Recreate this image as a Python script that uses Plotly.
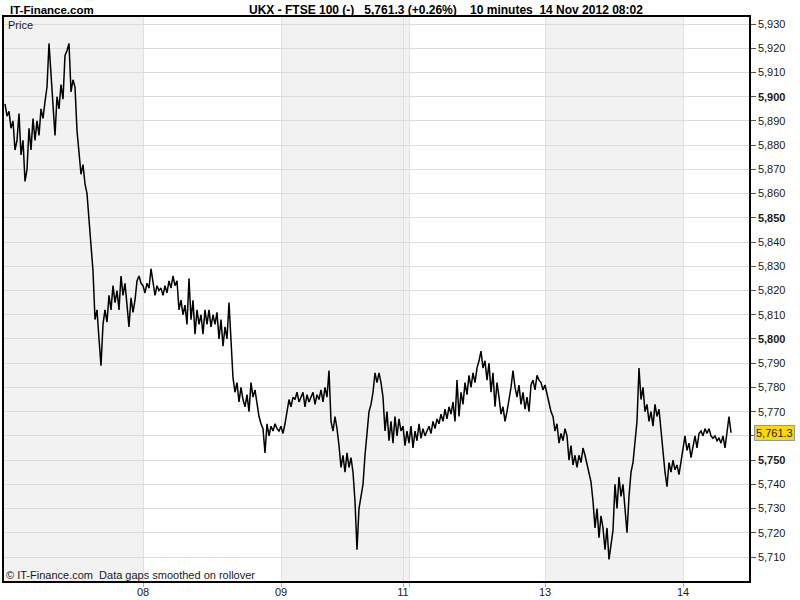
import plotly.graph_objects as go

# ---------------- data (10-minute bars) ----------------
day_labels = ["07", "08", "09", "11", "12", "13", "14"]
tick_day_labels = ["", "08", "09", "11", "", "13", "14"]

prices_07 = [5897, 5892, 5894, 5887, 5890, 5878, 5882, 5893, 5876, 5882,
             5865, 5870, 5887, 5878, 5891, 5882, 5890, 5884, 5895, 5891,
             5898, 5904, 5922, 5910, 5896, 5884, 5900, 5895, 5905, 5899,
             5917, 5919, 5922, 5902, 5907, 5904, 5886, 5875, 5868, 5872,
             5864, 5860, 5848, 5836, 5828, 5808, 5812, 5800, 5789, 5806,
             5812, 5807, 5818, 5812, 5822, 5815, 5820, 5812, 5826, 5818,
             5823, 5814, 5805, 5817, 5811, 5816, 5824, 5826, 5823]
prices_08 = [5822, 5819, 5823, 5821, 5829, 5824, 5818, 5822, 5820, 5821,
             5818, 5822, 5819, 5824, 5821, 5826, 5822, 5824, 5812, 5816,
             5810, 5814, 5806, 5825, 5808, 5816, 5802, 5812, 5806, 5810,
             5802, 5812, 5806, 5812, 5805, 5810, 5806, 5811, 5800, 5808,
             5797, 5805, 5800, 5815, 5796, 5784, 5778, 5782, 5774, 5780,
             5775, 5772, 5777, 5770, 5782, 5776, 5779, 5773, 5768, 5765,
             5763, 5753, 5765, 5760, 5764, 5762, 5765, 5763, 5762]
prices_09 = [5764, 5761, 5765, 5770, 5775, 5772, 5776, 5775, 5778, 5774,
             5776, 5778, 5772, 5777, 5774, 5776, 5778, 5773, 5777, 5775,
             5779, 5774, 5780, 5776, 5787, 5766, 5762, 5768, 5763, 5756,
             5747, 5752, 5745, 5753, 5747, 5751, 5745, 5733, 5713, 5730,
             5735, 5740, 5752, 5762, 5770, 5773, 5778, 5786, 5782, 5786,
             5782, 5776, 5762, 5770, 5758, 5766, 5757, 5768, 5760, 5767,
             5762]
prices_11 = [5764, 5756, 5762]
prices_12 = [5757, 5764, 5755, 5762, 5758, 5765, 5759, 5763, 5760, 5762,
             5764, 5761, 5766, 5763, 5767, 5765, 5769, 5766, 5771, 5767,
             5772, 5769, 5774, 5766, 5783, 5768, 5778, 5773, 5782, 5777,
             5785, 5780, 5786, 5782, 5788, 5791, 5795, 5788, 5791, 5783,
             5790, 5778, 5786, 5772, 5782, 5776, 5769, 5772, 5766, 5770,
             5775, 5780, 5787, 5780, 5776, 5781, 5773, 5778, 5771, 5776,
             5770, 5781, 5783, 5779, 5785, 5783, 5782, 5779]
prices_13 = [5781, 5777, 5774, 5770, 5768, 5762, 5765, 5757, 5761, 5758,
             5763, 5760, 5750, 5756, 5748, 5752, 5747, 5752, 5749, 5755,
             5752, 5748, 5744, 5741, 5733, 5722, 5730, 5718, 5727, 5722,
             5713, 5722, 5709, 5716, 5721, 5740, 5730, 5743, 5735, 5740,
             5728, 5720, 5735, 5745, 5749, 5758, 5766, 5788, 5775, 5780,
             5770, 5773, 5766, 5770, 5764, 5773, 5768, 5771, 5762, 5756,
             5745, 5739, 5749, 5745, 5750, 5746, 5748, 5744, 5749]
prices_14 = [5754, 5760, 5754, 5757, 5751, 5756, 5760, 5755, 5761, 5762,
             5760, 5763, 5761, 5763, 5760, 5759, 5760, 5758, 5759, 5757,
             5760, 5755, 5762, 5768, 5761.3]

# full-session lengths (bars) of each day on the time axis
session_bars = [69, 69, 61, 3, 68, 69, 34]

y_ticks = list(range(5710, 5931, 10))
last_price = 5761.3
title_text = ("UKX - FTSE 100 (-)&nbsp;&nbsp;&nbsp;5,761.3 (+0.26%)&nbsp;&nbsp;&nbsp;&nbsp;"
              "10 minutes&nbsp;&nbsp;14 Nov 2012 08:02")

# ---------------- build series ----------------
day_series = [prices_07, prices_08, prices_09, prices_11, prices_12, prices_13, prices_14]
starts = []
s = 0
for n in session_bars:
    starts.append(s)
    s += n
xs, ys = [], []
for st, vals in zip(starts, day_series):
    for i, v in enumerate(vals):
        xs.append(st + i)
        ys.append(v)

def fmt(v):
    return f"{v:,}"

tick_text = []
for v in y_ticks:
    if v == 5760:
        tick_text.append("")
    elif v % 50 == 0:
        tick_text.append(f"<b>{fmt(v)}</b>")
    else:
        tick_text.append(fmt(v))

FONT = "Liberation Sans, Arial, sans-serif"
L, R, T, B = 4, 51, 17, 19
W, H = 800, 600
PW, PH = W - L - R, H - T - B

def px(xp):
    return (xp - L) / PW

def py(yp):
    return (H - B - yp) / PH

fig = go.Figure()
fig.add_trace(go.Scatter(x=xs, y=ys, mode="lines",
                         line=dict(color="black", width=1.5),
                         hoverinfo="skip", showlegend=False))

# alternating day shading
shade_days = [0, 2, 3, 5]
for d in shade_days:
    x0 = starts[d] if d > 0 else -0.5
    x1 = starts[d] + session_bars[d]
    fig.add_shape(type="rect", xref="x", yref="paper", x0=x0, x1=x1, y0=0, y1=1,
                  fillcolor="#f2f2f2", line=dict(width=0), layer="below")

fig.update_layout(
    width=W, height=H,
    margin=dict(l=L, r=R, t=T, b=B, autoexpand=False),
    paper_bgcolor="white", plot_bgcolor="white",
    font=dict(family=FONT, size=11, color="#1a1a1a"),
    showlegend=False,
)
fig.update_xaxes(
    range=[-0.5, 372], showline=True, mirror=True, linecolor="black", linewidth=1.5,
    tickvals=starts[1:], ticktext=tick_day_labels[1:],
    ticks="outside", ticklen=4, tickcolor="#9fb3c2",
    ticklabelstandoff=-4,
    showgrid=True, gridcolor="#dde1e4", gridwidth=1, zeroline=False,
    tickfont=dict(size=11, color="#1a1a1a"),
)
fig.update_yaxes(
    range=[5700.1, 5932.9], side="right", showline=True, mirror=True,
    linecolor="black", linewidth=1.5,
    tickvals=y_ticks, ticktext=tick_text,
    ticks="outside", ticklen=5, tickcolor="#555",
    showgrid=True, gridcolor="#dcdcdc", gridwidth=1, zeroline=False,
    tickfont=dict(size=11, color="#1a1a1a"),
)

ann = []
ann.append(dict(text="<b>IT-Finance.com</b>", x=px(8), y=py(10), xref="paper", yref="paper",
                xanchor="left", yanchor="middle", showarrow=False,
                font=dict(size=11.5, family=FONT, color="black")))
ann.append(dict(text=f"<b>{title_text}</b>", x=px(247), y=py(10), xref="paper", yref="paper",
                xanchor="left", yanchor="middle", showarrow=False,
                font=dict(size=12, family=FONT, color="black")))
ann.append(dict(text="Price", x=px(6), y=py(25), xref="paper", yref="paper",
                xanchor="left", yanchor="middle", showarrow=False,
                font=dict(size=11, family=FONT, color="#1a1a1a")))
ann.append(dict(text="© IT-Finance.com  Data gaps smoothed on rollover", x=px(4), y=py(575),
                xref="paper", yref="paper", xanchor="left", yanchor="middle", showarrow=False,
                font=dict(size=11, family=FONT, color="#1a1a1a")))
ann.append(dict(text=f"{last_price:,.1f}", x=px(754), y=last_price, xref="paper", yref="y",
                xanchor="left", yanchor="middle", showarrow=False,
                bgcolor="#ffd800", bordercolor="#8a9bb0", borderwidth=1, borderpad=1,
                font=dict(size=11, family=FONT, color="#1a1a1a")))
fig.update_layout(annotations=ann)

fig.write_html("out.html", config={"displayModeBar": False},
               post_script="document.body.style.margin='0px';document.body.style.padding='0px';")
